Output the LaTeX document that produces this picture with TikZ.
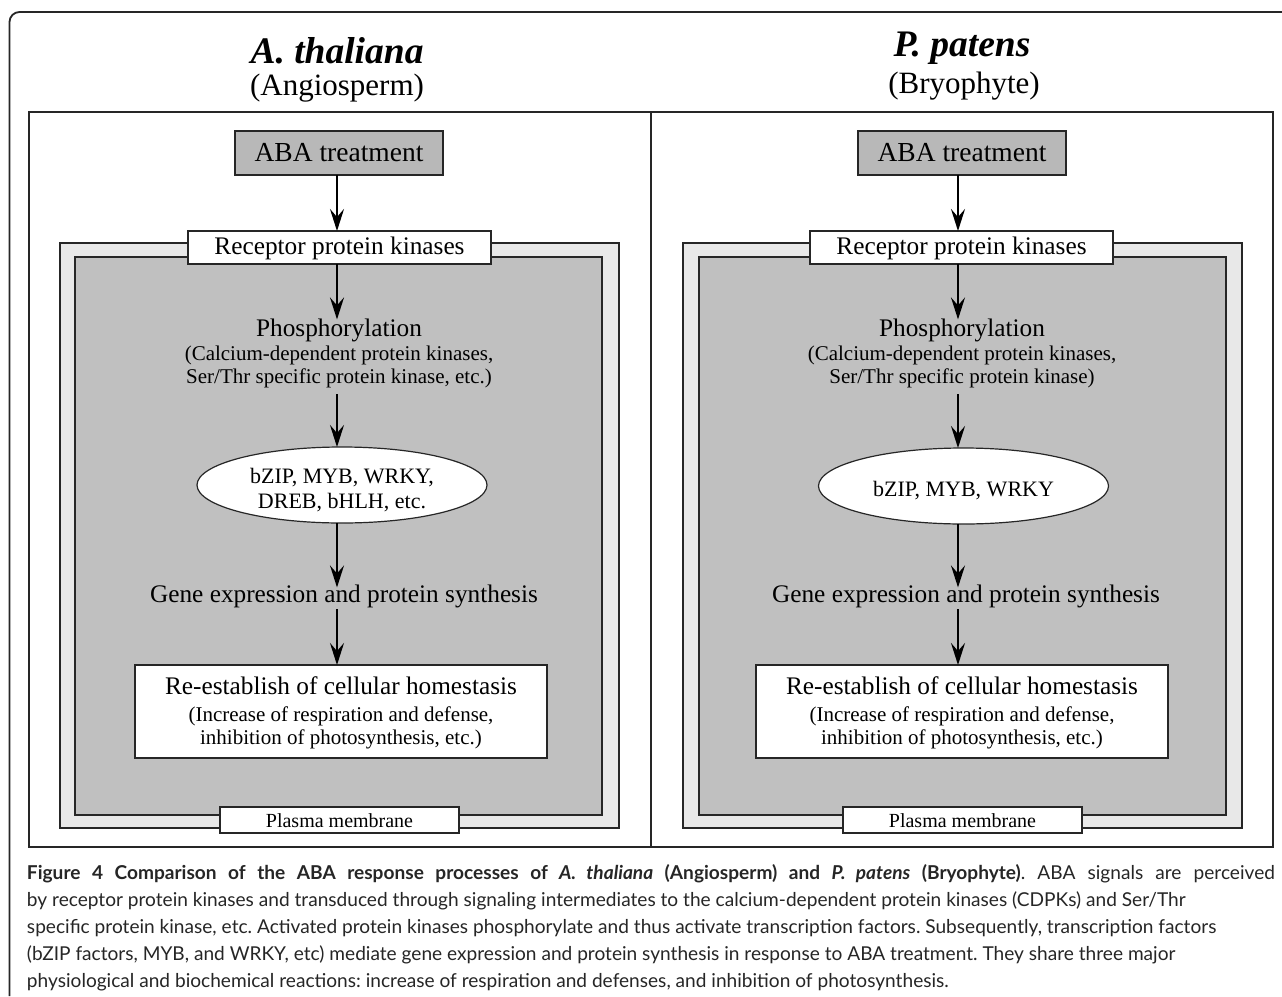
\documentclass[tikz,border=0pt]{standalone}
\usepackage{fontspec}
\setmainfont{Liberation Serif}
\newfontfamily\capfont{Lato}
\usetikzlibrary{arrows.meta,shapes.geometric}
\definecolor{dk}{HTML}{C0C0C0}
\definecolor{lt}{HTML}{E8E8E8}
\definecolor{ln}{HTML}{262626}
\definecolor{abafill}{HTML}{B8B8B8}
\newcommand\fsz[2]{\fontsize{#1}{#2}\selectfont}
\tikzset{
  frameline/.style={draw=ln, line width=1.8pt},
  boxw/.style={draw=ln, line width=1.6pt, fill=white, inner sep=0pt, outer sep=0pt},
  ababox/.style={draw=ln, line width=1.6pt, fill=abafill, inner sep=0pt, outer sep=0pt,
     minimum width=208pt, minimum height=44pt},
  recbox/.style={boxw, minimum width=303pt, minimum height=33pt},
  resbox/.style={boxw, minimum width=412pt, minimum height=93pt},
  plbox/.style={boxw, minimum width=239pt, minimum height=26pt},
  tfbell/.style={ellipse, draw=ln, line width=1.2pt, fill=white, inner sep=0pt, outer sep=0pt,
     minimum width=290pt, minimum height=76pt},
  txt/.style={inner sep=0pt, outer sep=0pt, anchor=base, text=black},
  flow/.style={draw=black, line width=2.4pt, -{Stealth[length=22pt,width=14pt,inset=8pt]}},
  capl/.style={inner sep=0pt, outer sep=0pt, anchor=base west, text=black!85,
     font=\capfont\fsz{19.1}{22}\frenchspacing},
}
\begin{document}
\begin{tikzpicture}[x=1pt,y=-1pt]
\useasboundingbox (0,0) rectangle (1282,996);
\fill[white] (0,0) rectangle (1282,996);
% outer frame
\draw[frameline, rounded corners=10pt] (9.5,996) -- (9.5,12) -- (1282,12);
% panel
\draw[frameline, line width=1.6pt] (29,112) rectangle (1273,847);
\draw[frameline, line width=1.6pt] (651,112) -- (651,847);
% titles
\node[txt, font=\fsz{37.5}{40}\bfseries\itshape] (tA) at (337,63) {A. thaliana};
\node[txt, font=\fsz{31}{34}] (tAs) at (337,95) {(Angiosperm)};
\node[txt, font=\fsz{37.5}{40}\bfseries\itshape] (tP) at (962,56) {P. patens};
\node[txt, font=\fsz{31}{34}] (tPs) at (964,93) {(Bryophyte)};
% membranes
\draw[draw=ln, line width=1.6pt, fill=lt] (60,243) rectangle (619,828);
\draw[draw=ln, line width=1.6pt, fill=dk] (75,257) rectangle (602,815);
\draw[draw=ln, line width=1.6pt, fill=lt] (683,243) rectangle (1242,828);
\draw[draw=ln, line width=1.6pt, fill=dk] (699,257) rectangle (1226,815);
% axes of arrows
\coordinate (axL) at (337,0);
\coordinate (axR) at (958,0);
% ---------------- left panel
\node[ababox] (abaL) at (339,153) {};
\node[txt, font=\fsz{27.5}{30}] (abaLt) at (339,161) {ABA treatment};
\node[recbox] (recL) at (339.5,247.5) {};
\node[txt, font=\fsz{25.3}{28}] (recLt) at (339.5,254) {Receptor protein kinases};
\node[txt, font=\fsz{25.3}{28}] (phL) at (339,336) {Phosphorylation};
\node[txt, font=\fsz{21}{23}] (phL1) at (339,360) {(Calcium-dependent protein kinases,};
\node[txt, font=\fsz{21}{23}] (phL2) at (339,383) {Ser/Thr specific protein kinase, etc.)};
\node[tfbell] (elL) at (342,485) {};
\node[txt, font=\fsz{22}{25}] (elL1) at (342,483) {bZIP, MYB, WRKY,};
\node[txt, font=\fsz{22}{25}] (elL2) at (342,508) {DREB, bHLH, etc.};
\node[txt, font=\fsz{25.3}{28}] (geL) at (344,602) {Gene expression and protein synthesis};
\node[resbox] (resL) at (341,711.5) {};
\node[txt, font=\fsz{25.3}{28}] (resL1) at (341,694) {Re-establish of cellular homestasis};
\node[txt, font=\fsz{21}{23}] (resL2) at (341,721) {(Increase of respiration and defense,};
\node[txt, font=\fsz{21}{23}] (resL3) at (341,744) {inhibition of photosynthesis, etc.)};
\node[plbox] (plL) at (339.5,820) {};
\node[txt, font=\fsz{20}{22}] (plLt) at (339.5,827) {Plasma membrane};
\draw[flow] (abaL.south -| axL) -- (recL.north -| axL);
\draw[flow] (recL.south -| axL) -- ([yshift=-1pt]phL.north -| axL);
\draw[flow, shorten <=7pt] (phL2.south -| axL) -- (elL.north -| axL);
\draw[flow, shorten >=-3pt] (elL.south -| axL) -- (geL.north -| axL);
\draw[flow, shorten <=2pt] (geL.south -| axL) -- (resL.north -| axL);
% ---------------- right panel
\node[ababox] (abaR) at (962,153) {};
\node[txt, font=\fsz{27.5}{30}] (abaRt) at (962,161) {ABA treatment};
\node[recbox] (recR) at (961.5,247.5) {};
\node[txt, font=\fsz{25.3}{28}] (recRt) at (961.5,254) {Receptor protein kinases};
\node[txt, font=\fsz{25.3}{28}] (phR) at (962,336) {Phosphorylation};
\node[txt, font=\fsz{21}{23}] (phR1) at (962,360) {(Calcium-dependent protein kinases,};
\node[txt, font=\fsz{21}{23}] (phR2) at (962,383) {Ser/Thr specific protein kinase)};
\node[tfbell] (elR) at (963.5,486) {};
\node[txt, font=\fsz{22}{25}] (elR1) at (963.5,496) {bZIP, MYB, WRKY};
\node[txt, font=\fsz{25.3}{28}] (geR) at (966,602) {Gene expression and protein synthesis};
\node[resbox] (resR) at (962,711.5) {};
\node[txt, font=\fsz{25.3}{28}] (resR1) at (962,694) {Re-establish of cellular homestasis};
\node[txt, font=\fsz{21}{23}] (resR2) at (962,721) {(Increase of respiration and defense,};
\node[txt, font=\fsz{21}{23}] (resR3) at (962,744) {inhibition of photosynthesis, etc.)};
\node[plbox] (plR) at (962.5,820) {};
\node[txt, font=\fsz{20}{22}] (plRt) at (962.5,827) {Plasma membrane};
\draw[flow] (abaR.south -| axR) -- (recR.north -| axR);
\draw[flow] (recR.south -| axR) -- ([yshift=-1pt]phR.north -| axR);
\draw[flow, shorten <=7pt] (phR2.south -| axR) -- (elR.north -| axR);
\draw[flow, shorten >=-3pt] (elR.south -| axR) -- (geR.north -| axR);
\draw[flow, shorten <=2pt] (geR.south -| axR) -- (resR.north -| axR);
% ---------------- caption
\node[capl] (c1) at (27,879) {\makebox[1248pt][s]{\bfseries Figure 4 Comparison of the ABA response processes of \textit{A. thaliana} (Angiosperm) and \textit{P. patens} (Bryophyte)\mdseries. ABA signals are perceived}};
\node[capl] (c2) at (27,906) {by receptor protein kinases and transduced through signaling intermediates to the calcium-dependent protein kinases (CDPKs) and Ser/Thr};
\node[capl] (c3) at (27,933) {specific protein kinase, etc. Activated protein kinases phosphorylate and thus activate transcription factors. Subsequently, transcription factors};
\node[capl] (c4) at (27,960) {(bZIP factors, MYB, and WRKY, etc) mediate gene expression and protein synthesis in response to ABA treatment. They share three major};
\node[capl] (c5) at (27,987) {physiological and biochemical reactions: increase of respiration and defenses, and inhibition of photosynthesis.};
\end{tikzpicture}
\end{document}
